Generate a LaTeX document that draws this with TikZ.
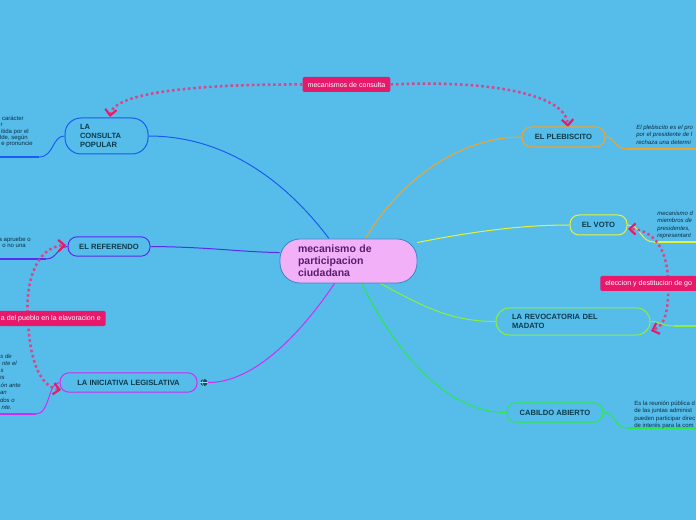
\documentclass[tikz,border=0pt]{standalone}
\usepackage{fontspec}
\setmainfont{Liberation Sans}
\usetikzlibrary{arrows.meta}
\definecolor{bgc}{HTML}{56BDEA}
\definecolor{cfill}{HTML}{F2B0F8}
\definecolor{cborder}{HTML}{3A86C8}
\definecolor{ctext}{HTML}{5A1E6E}
\definecolor{ltext}{HTML}{0C3B4C}
\definecolor{stext}{HTML}{0B2E44}
\definecolor{pinkc}{HTML}{E8196B}
\definecolor{dotc}{HTML}{D6478A}
\definecolor{cblue}{HTML}{1A5CF0}
\definecolor{cindigo}{HTML}{5B2BF0}
\definecolor{cmag}{HTML}{D22BF2}
\definecolor{corange}{HTML}{F2A42A}
\definecolor{cyellow}{HTML}{E6F23A}
\definecolor{clime}{HTML}{8CF03A}
\definecolor{cgreen}{HTML}{2AE84A}
\definecolor{globec}{HTML}{1F4E5E}
\newcommand\cenf{\bfseries\fontsize{7.9}{9}\selectfont}
\newcommand\lblf{\bfseries\fontsize{5.7}{6.6}\selectfont}
\newcommand\sidef{\fontsize{4.5}{5.5}\selectfont}
\newcommand\pinkf{\fontsize{5.3}{6}\selectfont}
\pgfdeclarelayer{bgl}
\pgfsetlayers{bgl,main}
\tikzset{
  cnode/.style={draw=cborder, fill=cfill, line width=0.6pt, rounded corners=15pt,
    minimum width=102.75pt, minimum height=33pt, text width=75.75pt, inner xsep=13.5pt,
    align=left, font=\cenf, text=ctext},
  bnode/.style={draw, line width=0.75pt, rounded corners=6.75pt, minimum height=14.5pt,
    inner sep=0pt, align=center, font=\lblf, text=ltext},
  sidetxt/.style={inner sep=0pt, font=\sidef, text=stext},
  sideit/.style={inner sep=0pt, font=\sidef\itshape, text=stext},
  pinklab/.style={fill=pinkc, text=white, rounded corners=1.5pt, minimum height=11.25pt,
    inner xsep=3.75pt, inner ysep=0pt, font=\pinkf},
  conn/.style={line width=0.75pt},
  thickline/.style={line width=1.5pt},
  dotline/.style={dotc, line width=1.9pt, dash pattern=on 1.9pt off 2.1pt,
    >={Straight Barb[length=4.5pt,width=8.5pt,line width=1.6pt,color=pinkc]}},
}
\begin{document}
\begin{tikzpicture}[x=0.75pt,y=-0.75pt]
\useasboundingbox (0,0) rectangle (696,520);
\clip (0,0) rectangle (696,520);
\begin{pgfonlayer}{bgl}
\fill[bgc] (0,0) rectangle (696,520);
\end{pgfonlayer}

% main nodes
\node[cnode] (c) at (348.5,261) {mecanismo de\\participacion\\ciudadana};
\node[bnode, draw=cblue, rounded corners=12pt, minimum height=27pt, text width=39.75pt,
  inner xsep=11.25pt, align=left, font=\lblf] (cp) at (106.5,136) {LA\\CONSULTA\\POPULAR};
\node[bnode, draw=cindigo, minimum width=61.5pt] (rf) at (109,246.5) {EL REFERENDO};
\node[bnode, draw=cmag, minimum width=102.75pt] (ini) at (128.5,382.5) {LA INICIATIVA LEGISLATIVA};
\node[bnode, draw=corange, minimum width=62.25pt, minimum height=15pt] (pb) at (563.5,137) {EL PLEBISCITO};
\node[bnode, draw=cyellow, minimum width=42.75pt, minimum height=15pt] (vt) at (598.5,225) {EL VOTO};
\node[bnode, draw=clime, rounded corners=10pt, minimum height=20.25pt, text width=91.5pt,
  inner xsep=12pt, align=left] (rv) at (573,321.5) {LA REVOCATORIA DEL\\MADATO};
\node[bnode, draw=cgreen, minimum width=72pt] (cb) at (555,412.5) {CABILDO ABIERTO};

% globe icon
\node[circle, fill=globec, minimum size=5.5pt, inner sep=0pt] (gl) at (204,382.5) {};
\draw[cyan!40!white, line width=0.35pt] (gl.north) .. controls (202,380) and (202,385) .. (gl.south);
\draw[cyan!40!white, line width=0.35pt] (gl.west) -- (gl.east);

% pink labels
\node[pinklab] (mc) at (346.5,84.5) {mecanismos de consulta};
\node[pinklab, anchor=east] (pl) at (106,318.5) {a del pueblo en la elavoracion e};
\node[pinklab, anchor=west] (el) at (600,283.5) {eleccion y destitucion de go};

% side texts left
\foreach \xx/\yy/\txt [count=\i] in {24/121/{carácter}, 3/127/{r}, 29/134/{itida por el}, 28/140/{lde, según}, 33/145.5/{e pronuncie}}
  \node[sidetxt, anchor=base east] (ct\i) at (\xx,\yy) {\txt};
\foreach \xx/\yy/\txt [count=\i] in {31/242/{a apruebe o}, 26/248/{o no una}}
  \node[sidetxt, anchor=base east] (rt\i) at (\xx,\yy) {\txt};
\foreach \xx/\yy/\txt [count=\i] in {12/358/{s de}, 17/365/{nte el}, 4/372/{s}, 5/379/{es}, 21/387/{ón ante}, 7/394/{an}, 15/402/{dos o}, 12/409/{nte.}}
  \node[sideit, anchor=base east] (it\i) at (\xx,\yy) {\txt};
% side texts right
\foreach \yy/\txt [count=\i] in {130/{El plebiscito es el pro}, 137/{por el presidente de l}, 145/{rechaza una determi}}
  \node[sideit, anchor=base west] (pt\i) at (636,\yy) {\txt};
\foreach \yy/\txt [count=\i] in {216/{mecanismo d}, 223/{miembros de}, 231/{presidentes,}, 238/{representant}}
  \node[sideit, anchor=base west] (vx\i) at (657,\yy) {\txt};
\foreach \yy/\txt [count=\i] in {405/{Es la reunión pública d}, 412/{de las juntas administ}, 420/{pueden participar direc}, 427/{de interés para la com}}
  \node[sidetxt, anchor=base west] (cx\i) at (634,\yy) {\txt};

% free ends
\coordinate (cpk) at (39,157); \coordinate (cpe) at (0,157);
\coordinate (rfk) at (46,259); \coordinate (rfe) at (0,259);
\coordinate (inik) at (36,414); \coordinate (inie) at (0,414);
\coordinate (pbk) at (627,149); \coordinate (pbe) at (696,149);
\coordinate (vtk) at (654,242); \coordinate (vte) at (696,242);
\coordinate (rvk) at (674,326); \coordinate (rve) at (696,326);
\coordinate (cbk) at (627,428); \coordinate (cbe) at (696,428);
\coordinate (pla) at (28,318);
\coordinate (ela) at (668,283);

\begin{pgfonlayer}{bgl}
% center connectors
\draw[conn, cblue] (c.131) .. controls (300,200) and (240,136) .. (cp.east);
\draw[conn, cindigo] (c.173) .. controls (240,252) and (210,247) .. (rf.east);
\draw[conn, cmag] (c.238) .. controls (310,320) and (260,383) .. (gl.east);
\draw[conn, corange] (c.53) .. controls (400,180) and (460,137) .. (pb.west);
\draw[conn, cyellow] (c.15) .. controls (470,232) and (520,225) .. (vt.west);
\draw[conn, clime] (c.325) .. controls (420,305) and (450,321.5) .. (rv.west);
\draw[conn, cgreen] (c.300) .. controls (390,340) and (440,412.5) .. (cb.west);
% side connectors
\draw[conn, cblue] (cp.west) .. controls (52,136) and (54,157) .. (cpk);
\draw[thickline, cblue] (cpk) -- (cpe);
\draw[conn, cindigo] (rf.west) .. controls (57,247) and (57,259) .. (rfk);
\draw[thickline, cindigo] (rfk) -- (rfe);
\draw[conn, cmag] (ini.west) .. controls (48,382) and (50,414) .. (inik);
\draw[thickline, cmag] (inik) -- (inie);
\draw[conn, corange] (pb.east) .. controls (616,137) and (614,149) .. (pbk);
\draw[thickline, corange] (pbk) -- (pbe);
\draw[conn, cyellow] (vt.east) .. controls (641,225) and (640,242) .. (vtk);
\draw[thickline, cyellow] (vtk) -- (vte);
\draw[conn, clime] (rv.east) .. controls (660,321) and (662,326) .. (rvk);
\draw[thickline, clime] (rvk) -- (rve);
\draw[conn, cgreen] (cb.east) .. controls (616,412.5) and (614,428) .. (cbk);
\draw[thickline, cgreen] (cbk) -- (cbe);
% dotted relations
\draw[dotline, ->] (mc.west) .. controls (200,84) and (113,92) .. (110,117);
\draw[dotline, ->] (mc.east) .. controls (480,80) and (566,92) .. (568,127);
\draw[dotline, ->] (pla) .. controls (25,285) and (35,247) .. (66,245);
\draw[dotline, ->] (pla) .. controls (29,355) and (38,386) .. (61,390);
\draw[dotline, ->] (ela) .. controls (668,245) and (650,229) .. (628,229);
\draw[dotline, ->] (ela) .. controls (669,310) and (665,326) .. (651,331);
\end{pgfonlayer}
\end{tikzpicture}
\end{document}
